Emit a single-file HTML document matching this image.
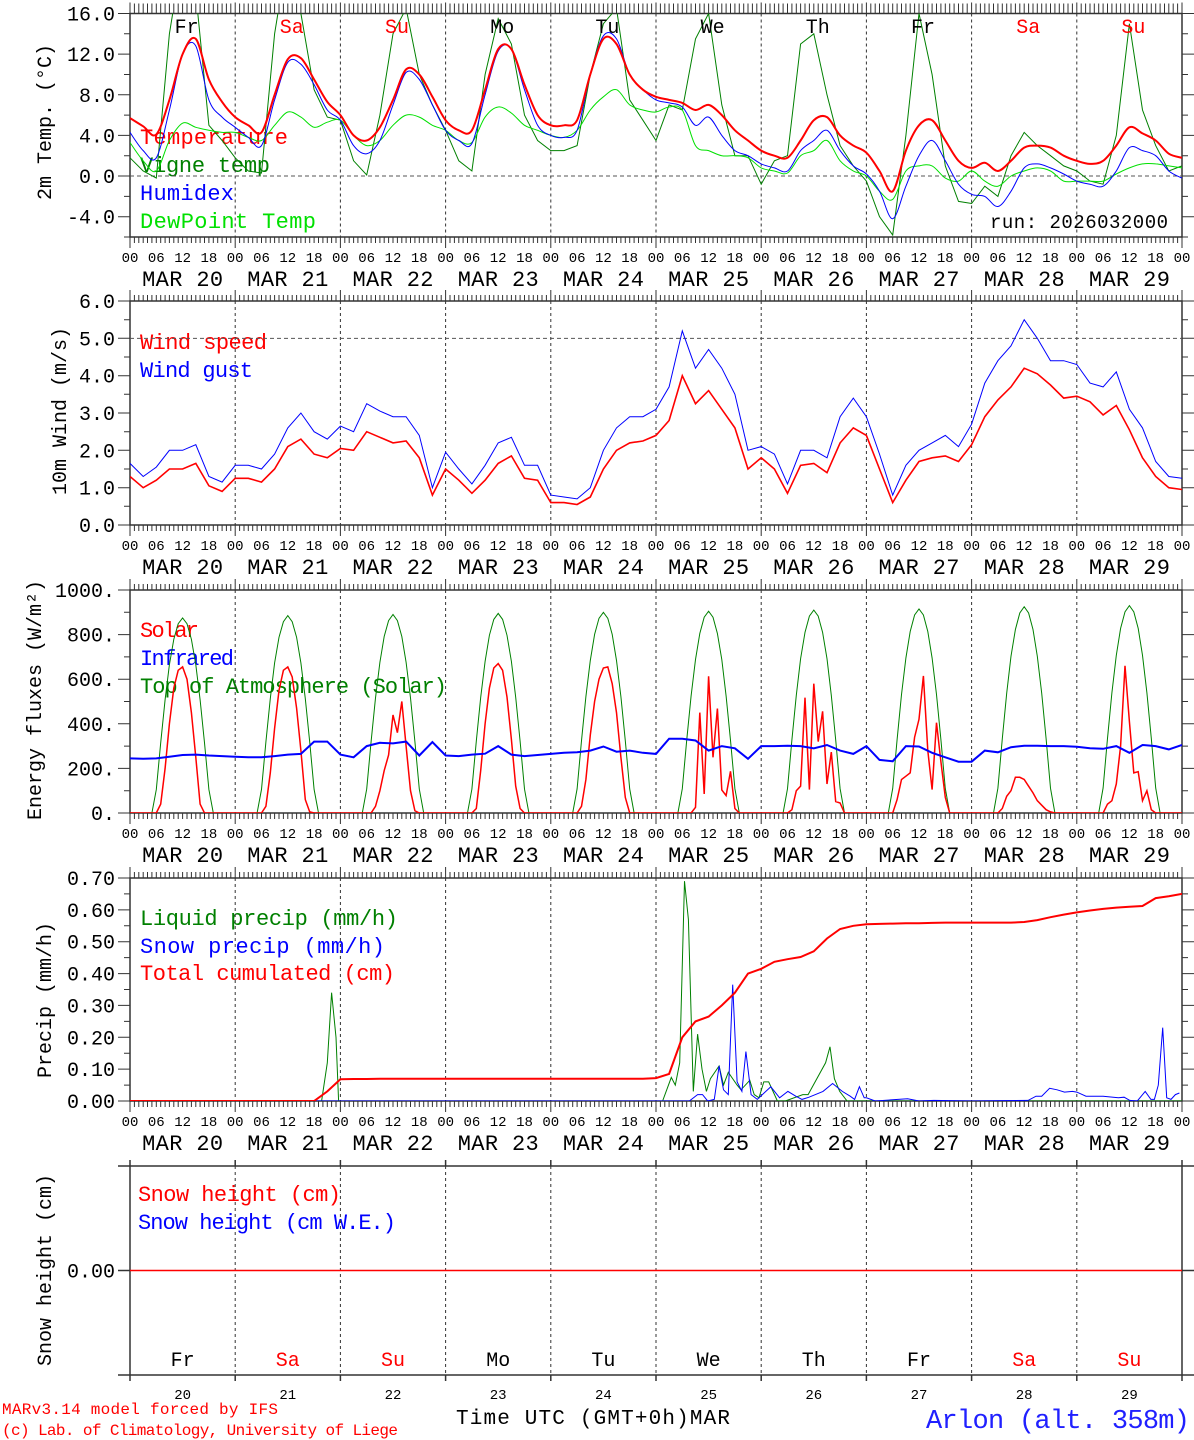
<!DOCTYPE html>
<html><head><meta charset="utf-8"><title>Meteogram Arlon</title>
<style>
html,body{margin:0;padding:0;background:#fff;}
svg{display:block;}
text{font-family:"Liberation Mono",monospace;}
</style></head>
<body>
<svg id="chart" xmlns="http://www.w3.org/2000/svg" width="1194" height="1440" viewBox="0 0 1194 1440">
<rect x="0" y="0" width="1194" height="1440" fill="#fff"/>
<defs>
<clipPath id="c1"><rect x="130" y="13.5" width="1052" height="223.5"/></clipPath>
<clipPath id="c2"><rect x="130" y="301" width="1052" height="224"/></clipPath>
<clipPath id="c3"><rect x="130" y="590" width="1052" height="223"/></clipPath>
<clipPath id="c4"><rect x="130" y="878" width="1052" height="223"/></clipPath>
</defs>
<g font-size="20" fill="#000">
<text transform="translate(51,122) rotate(-90)" text-anchor="middle">2m Temp. (°C)</text>
<text transform="translate(66,411) rotate(-90)" text-anchor="middle">10m Wind (m/s)</text>
<text transform="translate(41,700) rotate(-90)" text-anchor="middle">Energy fluxes (W/m²)</text>
<text transform="translate(51,1000) rotate(-90)" text-anchor="middle">Precip (mm/h)</text>
<text transform="translate(51,1270) rotate(-90)" text-anchor="middle">Snow height (cm)</text>
</g>
<g font-size="22">
<text x="140" y="144" fill="#ff0000" textLength="148">Temperature</text>
<text x="140" y="172" fill="#008000" textLength="130">Vigne temp</text>
<text x="140" y="200" fill="#0000ff" textLength="94">Humidex</text>
<text x="140" y="228" fill="#00e000" textLength="176">DewPoint Temp</text>
<text x="990" y="228" fill="#000" font-size="19" textLength="178">run: 2026032000</text>
<text x="140" y="349" fill="#ff0000" textLength="127">Wind speed</text>
<text x="140" y="377" fill="#0000ff" textLength="113">Wind gust</text>
<text x="140" y="637" fill="#ff0000" textLength="59">Solar</text>
<text x="140" y="665" fill="#0000ff" textLength="94">Infrared</text>
<text x="140" y="693" fill="#008000" textLength="307">Top of Atmosphere (Solar)</text>
<text x="140" y="925" fill="#008000" textLength="258">Liquid precip (mm/h)</text>
<text x="140" y="953" fill="#0000ff" textLength="245">Snow precip (mm/h)</text>
<text x="140" y="980" fill="#ff0000" textLength="255">Total cumulated (cm)</text>
<text x="138" y="1201" fill="#ff0000" textLength="203">Snow height (cm)</text>
<text x="138" y="1229" fill="#0000ff" textLength="258">Snow height (cm W.E.)</text>
</g>
<g>
<text x="2" y="1414" fill="#ff0000" font-size="16" textLength="276">MARv3.14 model forced by IFS</text>
<text x="2" y="1435" fill="#ff0000" font-size="16" textLength="396">(c) Lab. of Climatology, University of Liege</text>
<text x="456" y="1424" fill="#000" font-size="21" textLength="274">Time UTC (GMT+0h)MAR</text>
<text x="926" y="1428" fill="#2020ff" font-size="27" textLength="264">Arlon (alt. 358m)</text>
</g>
</svg>
<script>
// ---------- data ----------
const dayNames=['Fr','Sa','Su','Mo','Tu','We','Th','Fr','Sa','Su'];
const dayColors=['#000','#f00','#f00','#000','#000','#000','#000','#000','#f00','#f00'];
const dayNums=['20','21','22','23','24','25','26','27','28','29'];
const hourLabels=['00','06','12','18'];
const tempTicks=[16,12,8,4,0,-4];
const tempTickLabels=['16.0','12.0','8.0','4.0','0.0','-4.0'];
const windTicks=[6,5,4,3,2,1,0];
const windTickLabels=['6.0','5.0','4.0','3.0','2.0','1.0','0.0'];
const energyTicks=[1000,800,600,400,200,0];
const energyTickLabels=['1000.','800.','600.','400.','200.','0.'];
const precipTicks=[0.7,0.6,0.5,0.4,0.3,0.2,0.1,0];
const precipTickLabels=['0.70','0.60','0.50','0.40','0.30','0.20','0.10','0.00'];

// 3-hourly series (t = 0,3,...,240 h)
const tempVals=[5.7,4.9,4.1,7.5,12.0,13.5,9.5,7.3, 5.8,5.0,4.3,8.0,11.5,11.6,9.5,7.3, 6.0,4.0,3.5,4.8,7.5,10.5,10.0,7.8, 5.5,4.5,4.5,8.5,12.5,12.5,9.0,6.0, 5.0,5.0,5.5,10.0,13.5,13.0,10.0,8.5, 7.8,7.5,7.2,6.5,7.0,6.0,4.5,3.5, 2.5,2.0,1.8,3.5,5.5,5.8,4.0,3.0, 2.3,0.5,-1.5,2.5,5.0,5.5,3.5,1.5, 0.8,1.3,0.5,1.5,2.8,3.0,2.8,2.0, 1.5,1.2,1.5,3.0,4.8,4.2,3.5,2.2,1.8];
const humidexVals=[4.3,2.5,1.8,6.5,12.0,12.8,7.5,5.8, 4.8,3.8,3.0,7.5,11.2,11.0,9.0,6.5, 5.5,3.0,2.2,3.5,7.0,10.2,9.5,7.0, 4.5,3.5,3.2,8.0,12.3,12.5,8.5,5.0, 4.0,3.8,4.5,10.0,13.8,13.5,10.0,8.5, 7.5,7.2,6.8,5.0,5.8,4.0,2.5,2.0, 1.2,0.8,0.5,2.5,3.5,4.5,2.5,1.0, 0.2,-1.5,-4.2,-1.0,2.0,3.5,1.5,-0.8, -1.8,-2.0,-3.0,-1.5,0.8,1.2,0.8,0.2, -0.5,-0.8,-1.0,0.5,2.8,2.5,2.0,0.5,-0.2];
const dewVals=[3.3,1.5,0.5,3.5,5.2,4.8,4.5,4.3, 4.3,3.8,3.5,5.0,6.3,5.8,4.8,5.3, 5.5,4.0,3.0,3.5,5.0,6.0,5.8,5.0, 4.5,3.5,3.3,5.8,6.8,6.2,5.0,4.5, 4.0,3.8,4.5,6.5,7.8,8.5,7.0,6.5, 6.3,6.8,6.5,3.0,2.5,2.0,2.0,1.8, 0.8,0.5,0.3,2.0,2.5,3.5,1.5,0.5, 0.0,-1.5,-2.3,0.5,1.0,1.0,-0.2,-0.5, 0.5,-0.5,-1.0,0.0,0.5,0.8,0.5,-0.5, -0.5,-0.5,-0.5,0.2,0.8,1.2,1.2,1.0,0.8];
const vigneVals=[1.8,0.5,-0.2,14,22,18,5,3.5, 1.8,0.5,0.3,14,22,16,8.5,5.8, 5.5,1.5,0.1,6,14,16.5,10,7, 4.5,1.5,0.5,10,15.5,13,6,3.5, 2.5,2.5,3.0,10,15,16.5,7.5,5.5, 3.5,7.0,6.5,13.5,16,7,2,2, -0.8,1.5,2.0,13,14,8,3,1, -0.5,-4,-5.8,4,16,10,1,-2.5, -2.7,-1,-2.0,2,4.3,3.0,2.0,1.0, 0.5,-0.5,-0.8,4,15,6.5,3.0,0.5,1.0];
const windVals=[1.3,1.0,1.2,1.5,1.5,1.65,1.05,0.9, 1.25,1.25,1.15,1.5,2.1,2.3,1.9,1.8, 2.05,2.0,2.5,2.35,2.2,2.25,1.8,0.8, 1.5,1.2,0.85,1.2,1.65,1.85,1.25,1.2, 0.6,0.6,0.55,0.75,1.5,2.0,2.2,2.25, 2.4,2.8,4.0,3.25,3.6,3.1,2.6,1.5, 1.8,1.5,0.85,1.6,1.65,1.4,2.2,2.6, 2.4,1.5,0.6,1.2,1.7,1.8,1.85,1.7, 2.15,2.9,3.35,3.7,4.2,4.05,3.75,3.4, 3.45,3.3,2.95,3.2,2.55,1.8,1.3,1.0,0.95];
const gustVals=[1.65,1.3,1.55,2.0,2.0,2.15,1.3,1.15, 1.6,1.6,1.5,1.9,2.6,3.0,2.5,2.3, 2.65,2.5,3.25,3.05,2.9,2.9,2.4,1.0, 1.95,1.5,1.1,1.6,2.2,2.35,1.6,1.6, 0.8,0.75,0.7,1.0,2.0,2.6,2.9,2.9, 3.1,3.7,5.2,4.2,4.7,4.2,3.5,2.0, 2.1,1.9,1.1,2.0,2.0,1.8,2.9,3.4, 2.9,1.9,0.8,1.6,2.0,2.2,2.4,2.1, 2.7,3.8,4.4,4.8,5.5,5.0,4.4,4.4, 4.3,3.8,3.7,4.1,3.1,2.6,1.7,1.3,1.25];
const irVals=[245,243,245,252,260,262,258,255, 252,250,250,255,262,265,320,320, 262,250,300,315,312,320,258,318, 258,255,262,266,300,262,255,260, 265,270,272,280,298,275,280,270, 265,333,333,325,280,300,290,243, 300,300,302,300,290,305,280,265, 300,238,232,300,298,270,250,230, 230,280,272,295,302,302,300,300, 297,290,288,300,270,305,300,285,305];
const cumVals=[0,0,0,0,0,0,0,0, 0,0,0,0,0,0,0,0.03, 0.068,0.069,0.069,0.07,0.07,0.07,0.07,0.07, 0.07,0.07,0.07,0.07,0.07,0.07,0.07,0.07, 0.07,0.07,0.07,0.07,0.07,0.07,0.07,0.07, 0.072,0.085,0.2,0.25,0.265,0.30,0.34,0.40, 0.415,0.437,0.445,0.452,0.47,0.51,0.54,0.55, 0.555,0.556,0.557,0.558,0.558,0.559,0.56,0.56, 0.56,0.56,0.56,0.56,0.562,0.568,0.577,0.585, 0.592,0.598,0.603,0.607,0.61,0.612,0.637,0.643,0.65];
// hourly daytime values h05..h19 per day
const toaVals=[
[0,105,315,508,665,779,849,875,849,779,665,508,315,105,0],
[0,106,319,513,673,788,858,885,858,788,673,513,319,106,0],
[0,107,320,516,676,792,863,890,863,792,676,516,320,107,0],
[0,107,322,519,680,797,868,895,868,797,680,519,322,107,0],
[0,108,324,522,684,801,873,900,873,801,684,522,324,108,0],
[0,109,326,525,688,805,878,905,878,805,688,525,326,109,0],
[0,109,328,528,692,810,883,910,883,810,692,528,328,109,0],
[0,110,329,531,695,814,888,915,888,814,695,531,329,110,0],
[0,111,333,537,703,823,897,925,897,823,703,537,333,111,0],
[0,112,335,539,707,828,902,930,902,828,707,539,335,112,0]];
const solarVals=[
[0,0,40,200,400,560,640,655,600,450,250,40,0,0,0],
[0,0,30,180,380,550,640,655,610,470,280,60,5,0,0],
[0,0,0,30,100,190,260,440,360,500,300,100,10,0,0],
[0,0,20,190,400,560,650,670,640,520,330,120,20,0,0],
[0,0,30,150,350,500,600,650,655,580,450,250,70,0,0],
[0,0,0,0,25,450,85,613,250,468,103,78,187,20,0],
[0,0,15,100,120,517,105,580,320,456,130,273,51,45,0],
[0,0,60,150,165,180,340,420,615,280,105,405,230,70,0],
[0,0,20,75,100,160,160,150,120,90,55,35,15,5,0],
[0,0,40,55,130,300,660,410,180,185,55,100,15,0,0]];
// sparse hourly precipitation (hour from start, value)
const liqHours=[0,43.7,45,46,47,47.6,120,121.5,123.5,124.4,125.4,126.5,127.4,128.5,129.5,130.5,131.5,132.4,134.4,135.4,136.5,138.5,139.4,141.4,142.4,143.5,144.6,145.7,147.7,149.5,153.5,154.7,158.7,159.7,160.7,161.9,163.6,240];
const liqVals=[0,0,0.12,0.34,0.2,0,0,0,0.074,0.05,0.12,0.69,0.57,0.03,0.21,0.1,0.03,0.07,0.11,0.05,0.09,0.05,0.035,0.065,0.02,0.01,0.06,0.06,0,0,0.02,0.02,0.12,0.17,0.07,0.03,0,0];
const snowHours=[0,127.6,129.5,130.6,131.8,133.3,134.4,135.4,136.5,137.5,138.5,139.6,140.5,141.7,143.1,146.2,148.2,150.1,151.9,153.3,154.9,158.1,160.3,162.5,164.3,165.3,166.4,167.5,168,170,175.2,177.4,180,183.4,192,204.9,206.7,208,209.8,211.5,213.2,215,216,218.1,219.8,222,225.5,226.8,228.1,229.8,231.6,232.9,233.7,234.6,235.6,236.5,237.5,238.5,239.4];
const snowVals=[0,0,0.02,0.02,0,0.005,0.11,0.035,0.02,0.365,0.06,0.03,0.155,0.02,0.005,0.045,0.01,0.03,0.015,0.005,0.012,0.03,0.055,0.03,0.015,0.005,0.045,0.01,0.01,0,0.005,0.007,0,0.002,0,0.002,0.015,0.015,0.04,0.035,0.028,0.03,0.028,0.015,0.015,0.015,0.01,0.012,0.002,0,0.03,0.005,0.005,0.05,0.23,0.01,0.005,0.02,0.025];
const snowHeightVals=[0,0];

// ---------- helpers ----------
const NS='http://www.w3.org/2000/svg';
const svg=document.getElementById('chart');
function mk(tag,attrs,parent){const e=document.createElementNS(NS,tag);for(const k in attrs)e.setAttribute(k,attrs[k]);(parent||svg).appendChild(e);return e;}
const X0=130,X1=1182;
function xs(t){return X0+t*(X1-X0)/240;}
const P1={top:13.5,bot:237,vmin:-6,vmax:16,clip:'c1'};
const P2={top:301,bot:525,vmin:0,vmax:6,clip:'c2'};
const P3={top:590,bot:813,vmin:0,vmax:1000,clip:'c3'};
const P4={top:878,bot:1101,vmin:0,vmax:0.7,clip:'c4'};
const P5={top:1166,bot:1375,vmin:-1,vmax:1};
function ys(p,v){return p.bot-(v-p.vmin)*(p.bot-p.top)/(p.vmax-p.vmin);}

function frame(p,name,ticks,labels,minorStep,topTickLen){
  const g=mk('g',{});
  
  
  let d='';
  for(let h=0;h<=240;h++){
    const x=xs(h).toFixed(1);
    const day=h%24===0;
    d+=`M${x} ${p.top}V${p.top-(day?11:topTickLen)}`;
    d+=`M${x} ${p.bot}V${p.bot+(day?11:6)}`;
  }
  const tk=mk('path',{d:d,stroke:'#333','stroke-width':1,fill:'none'},g);
  
  
  let dd='';
  for(let k=1;k<10;k++){const x=xs(24*k).toFixed(1);dd+=`M${x} ${p.top}V${p.bot}`;}
  const vg=mk('path',{d:dd,stroke:'#333','stroke-width':1,'stroke-dasharray':'3,3',fill:'none'},g);
  
  
  let yd='';
  for(let v=p.vmin;v<=p.vmax+1e-9;v+=minorStep){const y=ys(p,v).toFixed(1);yd+=`M${X0} ${y}H${X0-6}M${X1} ${y}H${X1+6}`;}
  ticks.forEach(v=>{const y=ys(p,v).toFixed(1);yd+=`M${X0} ${y}H${X0-12}M${X1} ${y}H${X1+12}`;});
  const yt=mk('path',{d:yd,stroke:'#333','stroke-width':1,fill:'none'},g);
  
  
  const box=mk('rect',{x:X0,y:p.top,width:X1-X0,height:p.bot-p.top,fill:'none',stroke:'#333','stroke-width':1.5},g);
  
  
  ticks.forEach((v,i)=>{
    const t=mk('text',{x:115,y:ys(p,v)+7,'text-anchor':'end','font-size':20,fill:'#000'},g);
    
    
    t.textContent=labels[i];
  });
  for(let h=0;h<=240;h+=6){
    const t=mk('text',{x:xs(h),y:p.bot+25,'text-anchor':'middle','font-size':14,fill:'#000'},g);
    
    
    t.textContent=hourLabels[(h/6)%4];
  }
  for(let k=0;k<10;k++){
    const t=mk('text',{x:xs(24*k+12),y:p.bot+49,'text-anchor':'middle','font-size':22,fill:'#000',textLength:81},g);
    
    
    t.textContent='MAR '+dayNums[k];
  }
}
function smoothPath(pts){
  let d=`M${pts[0][0].toFixed(1)} ${pts[0][1].toFixed(1)}`;
  for(let i=0;i<pts.length-1;i++){
    const p0=pts[i-1]||pts[i],p1=pts[i],p2=pts[i+1],p3=pts[i+2]||p2;
    const c1=[p1[0]+(p2[0]-p0[0])/6,p1[1]+(p2[1]-p0[1])/6];
    const c2=[p2[0]-(p3[0]-p1[0])/6,p2[1]-(p3[1]-p1[1])/6];
    d+=`C${c1[0].toFixed(1)} ${c1[1].toFixed(1)} ${c2[0].toFixed(1)} ${c2[1].toFixed(1)} ${p2[0].toFixed(1)} ${p2[1].toFixed(1)}`;
  }
  return d;
}
function linePath(pts){return pts.map((q,i)=>(i?'L':'M')+q[0].toFixed(1)+' '+q[1].toFixed(1)).join('');}
function series3h(p,vals){return vals.map((v,i)=>[xs(i*3),ys(p,v)]);}
function dayHourly(p,arr){
  const pts=[];
  arr.forEach((dv,k)=>{
    pts.push([xs(24*k),ys(p,0)]);
    dv.forEach((v,j)=>pts.push([xs(24*k+5+j),ys(p,v)]));
  });
  pts.push([xs(240),ys(p,0)]);
  return pts;
}

// ---------- panel 1: temperature ----------
frame(P1,'temp',tempTicks,tempTickLabels,2,10);
const z1=mk('line',{x1:X0,x2:X1,y1:ys(P1,0),y2:ys(P1,0),stroke:'#555','stroke-dasharray':'4,3'});


const g1=mk('g',{'clip-path':'url(#c1)',fill:'none'});


const lv=mk('path',{d:linePath(series3h(P1,vigneVals)),stroke:'#008000','stroke-width':1},g1);


const ld=mk('path',{d:smoothPath(series3h(P1,dewVals)),stroke:'#00e000','stroke-width':1},g1);


const lh=mk('path',{d:smoothPath(series3h(P1,humidexVals)),stroke:'#0000ff','stroke-width':1},g1);


const lt=mk('path',{d:smoothPath(series3h(P1,tempVals)),stroke:'#ff0000','stroke-width':2},g1);


dayNames.forEach((n,k)=>{
  const t=mk('text',{x:xs(24*k+12)+4,y:33,'text-anchor':'middle','font-size':20,fill:dayColors[k]});
  
  
  t.textContent=n;
});

// ---------- panel 2: wind ----------
frame(P2,'wind',windTicks,windTickLabels,0.5,6);
const z2=mk('line',{x1:X0,x2:X1,y1:ys(P2,5),y2:ys(P2,5),stroke:'#555','stroke-dasharray':'4,3'});


const g2=mk('g',{'clip-path':'url(#c2)',fill:'none'});


const lg=mk('path',{d:linePath(series3h(P2,gustVals)),stroke:'#0000ff','stroke-width':1},g2);


const lw=mk('path',{d:linePath(series3h(P2,windVals)),stroke:'#ff0000','stroke-width':1.6},g2);



// ---------- panel 3: energy ----------
frame(P3,'energy',energyTicks,energyTickLabels,100,6);
const g3=mk('g',{'clip-path':'url(#c3)',fill:'none'});


const la=mk('path',{d:linePath(dayHourly(P3,toaVals)),stroke:'#008000','stroke-width':1},g3);


const ls=mk('path',{d:linePath(dayHourly(P3,solarVals)),stroke:'#ff0000','stroke-width':1.5},g3);


const li=mk('path',{d:linePath(series3h(P3,irVals)),stroke:'#0000ff','stroke-width':2},g3);



// ---------- panel 4: precip ----------
frame(P4,'precip',precipTicks,precipTickLabels,0.05,6);
const g4=mk('g',{'clip-path':'url(#c4)',fill:'none'});


const lq=mk('path',{d:linePath(liqHours.map((h,i)=>[xs(h),ys(P4,liqVals[i])])),stroke:'#008000','stroke-width':1},g4);


const ln=mk('path',{d:linePath(snowHours.map((h,i)=>[xs(h),ys(P4,snowVals[i])])),stroke:'#0000ff','stroke-width':1},g4);


const lc=mk('path',{d:linePath(series3h(P4,cumVals)),stroke:'#ff0000','stroke-width':2},g4);



// ---------- panel 5: snow height ----------
const g5=mk('g',{});


let d5=`M118 ${P5.top}H${X1+12}M118 ${P5.bot}H${X1+12}M${X0} ${P5.top-6}V${P5.bot+6}M${X1} ${P5.top-6}V${P5.bot+6}`;
d5+=`M${X0-12} ${ys(P5,0)}H${X0}M${X1} ${ys(P5,0)}H${X1+12}`;
for(let k=1;k<10;k++){const x=xs(24*k).toFixed(1);d5+=`M${x} ${P5.top-6}V${P5.top}M${x} ${P5.bot}V${P5.bot+6}`;}
const f5=mk('path',{d:d5,stroke:'#333','stroke-width':1.5,fill:'none'},g5);


let v5='';
for(let k=1;k<10;k++){const x=xs(24*k).toFixed(1);v5+=`M${x} ${P5.top}V${P5.bot}`;}
const gv5=mk('path',{d:v5,stroke:'#333','stroke-dasharray':'3,3',fill:'none'},g5);


const yl5=mk('text',{x:115,y:ys(P5,0)+7,'text-anchor':'end','font-size':20,fill:'#000'},g5);


yl5.textContent='0.00';
const sh=mk('path',{d:linePath(snowHeightVals.map((v,i)=>[xs(i*240),ys(P5,v)])),stroke:'#ff0000','stroke-width':1.5,fill:'none'},g5);


dayNames.forEach((n,k)=>{
  const t=mk('text',{x:xs(24*k+12),y:1366,'text-anchor':'middle','font-size':20,fill:dayColors[k]},g5);
  
  
  t.textContent=n;
  const t2=mk('text',{x:xs(24*k+12),y:1399,'text-anchor':'middle','font-size':14,fill:'#000'},g5);
  
  
  t2.textContent=dayNums[k];
});
</script>
</body></html>
